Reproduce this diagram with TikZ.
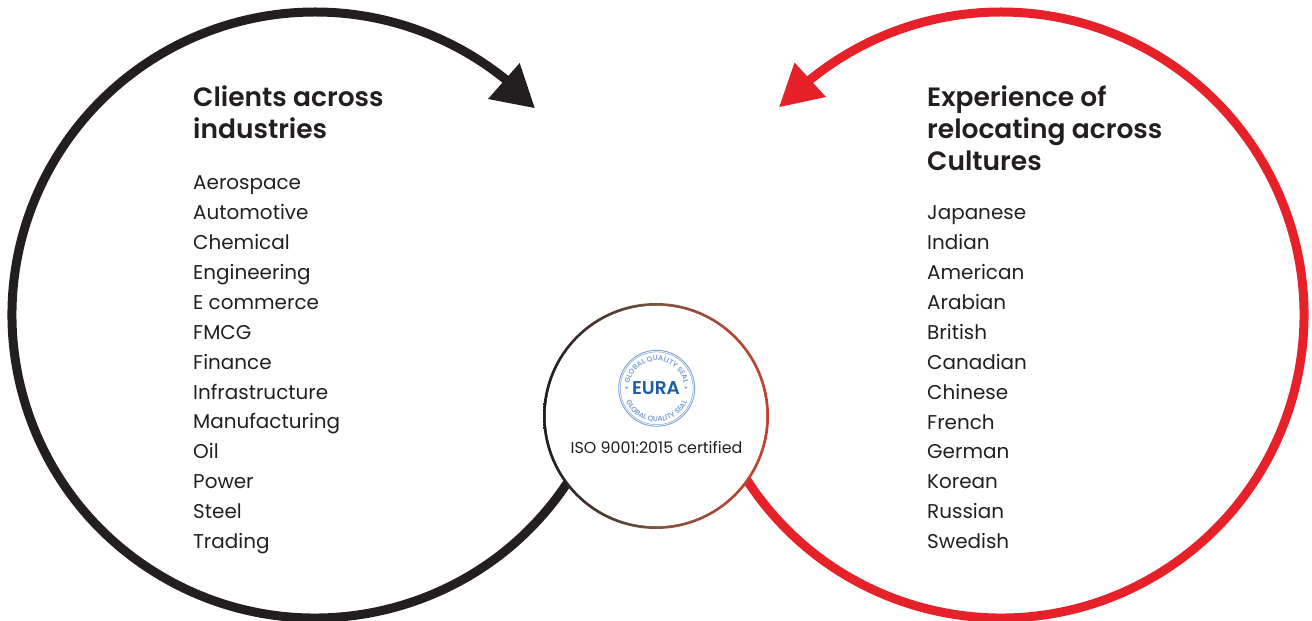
\documentclass[tikz,border=0pt]{standalone}
\usepackage{fontspec}
\usetikzlibrary{decorations.text}
\setmainfont{Poppins}
\newfontfamily\popsb{Poppins SemiBold}
\definecolor{inkblack}{HTML}{231F20}
\definecolor{inkred}{HTML}{E62129}
\definecolor{sealblue}{HTML}{1F5CA8}
\definecolor{seallight}{HTML}{7FA3D6}
\definecolor{hubbrown}{HTML}{7D5540}
\definecolor{hubrust}{HTML}{BC4530}
\pgfdeclarehorizontalshading{hubgrad}{100bp}{color(0bp)=(inkblack);color(27bp)=(inkblack);color(50bp)=(hubbrown);color(72bp)=(hubrust);color(85bp)=(inkred);color(100bp)=(inkred)}
\tikzset{
  bigarc/.style={line width=9pt,line cap=butt},
  headtip/.style={fill=#1,draw=none},
  title/.style={anchor=base west,inner sep=0pt,font=\fontsize{26.5}{26.5}\selectfont\popsb,text=inkblack},
  item/.style={anchor=base west,inner sep=0pt,font=\fontsize{19.95}{19.95}\selectfont,text=inkblack},
  sealtxt/.style={decorate,decoration={text along path,text align=center,raise=0pt,text={|\fontsize{7.2}{7.2}\selectfont\popsb\color{seallight}|#1}}}
}
\begin{document}
\begin{tikzpicture}[x=1pt,y=1pt]
\useasboundingbox (0,0) rectangle (1312,621);
% big arcs
\coordinate (lc) at (315,306);
\coordinate (rc) at (1001,306);
\draw[bigarc,inkblack] (lc) ++(-32:303) arc[start angle=-32,end angle=-310,radius=303];
\draw[bigarc,inkred] (rc) ++(212:303) arc[start angle=212,end angle=490,radius=303];
% arrow heads
\fill[headtip=inkblack] (534.7,513) -- (519.7,558) -- (488,522) -- cycle;
\fill[headtip=inkred] (779.3,514) -- (794.5,558.5) -- (826,524) -- cycle;
% hub
\node[circle,shade,shading=hubgrad,minimum size=226pt,inner sep=0pt] (hubring) at (656,205) {};
\node[circle,fill=white,minimum size=220.4pt,inner sep=0pt] (hub) at (656,205) {};
% seal
\coordinate (seal) at (656.7,232.7);
\draw[seallight,line width=0.9pt] (seal) circle[radius=38];
\draw[seallight,line width=0.5pt] (seal) circle[radius=36.4];
\path[sealtxt={GLOBAL QUALITY SEAL}] (seal) ++(172:27.5) arc[start angle=172,end angle=8,radius=27.5];
\path[sealtxt={GLOBAL QUALITY SEAL}] (seal) ++(190:33.5) arc[start angle=190,end angle=350,radius=33.5];
\node[inner sep=0pt,font=\fontsize{18.5}{18.5}\selectfont,text=sealblue] (eura) at (656,232.7) {\popsb EURA};
\node[inner sep=0pt,text=sealblue,font=\fontsize{6}{6}\selectfont] (starl) at (626.7,232.7) {$\star$};
\node[inner sep=0pt,text=sealblue,font=\fontsize{6}{6}\selectfont] (starr) at (686,232.7) {$\star$};
\node[anchor=base,inner sep=0pt,font=\fontsize{15.9}{15.9}\selectfont,text=inkblack] (iso) at (656.5,167.5) {ISO 9001:2015 certified};
% left titles
\node[title] (lt1) at (193,514) {Clients across};
\node[title] (lt2) at (193,482) {industries};
\foreach \t [count=\i from 0] in {Aerospace,Automotive,Chemical,Engineering,E commerce,FMCG,Finance,Infrastructure,Manufacturing,Oil,Power,Steel,Trading}
  \node[item] (l\i) at (193,{431-29.87*\i}) {\t};
% right titles
\node[title] (rt1) at (927,514) {Experience of};
\node[title] (rt2) at (927,482) {relocating across};
\node[title] (rt3) at (927,450) {Cultures};
\foreach \t [count=\i from 0] in {Japanese,Indian,American,Arabian,British,Canadian,Chinese,French,German,Korean,Russian,Swedish}
  \node[item] (r\i) at (927,{401-29.87*\i}) {\t};
\end{tikzpicture}
\end{document}
